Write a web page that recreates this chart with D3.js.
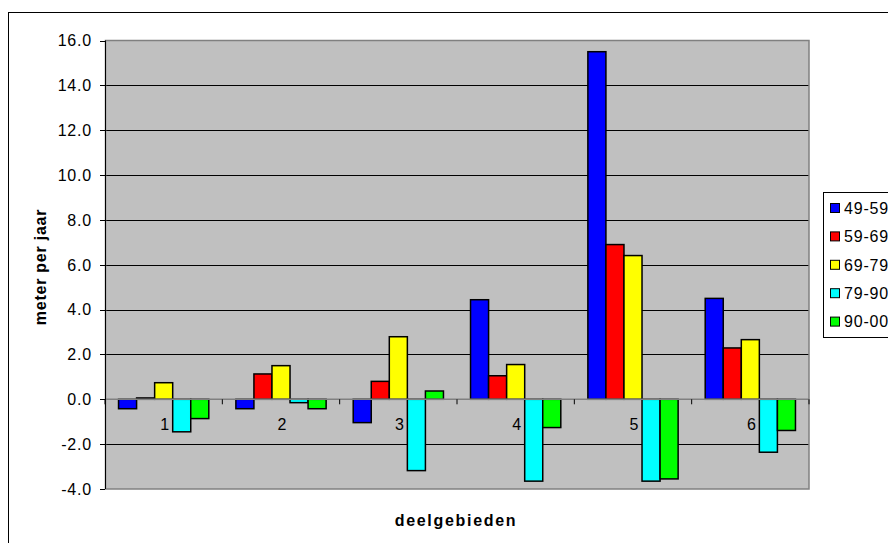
<!DOCTYPE html>
<html>
<head>
<meta charset="utf-8">
<script src="https://cdn.jsdelivr.net/npm/d3@7"></script>
<style>
  html, body { margin: 0; padding: 0; background: #fff; }
  svg { display: block; font-family: "Liberation Sans", Arial, sans-serif; }
</style>
</head>
<body>
<svg id="chart" width="888" height="543"></svg>
<script>
// Gemiddelde verplaatsing per deelgebied (meter per jaar), per periode
const categories = ["1", "2", "3", "4", "5", "6"];
const seriesNames = ["49-59", "59-69", "69-79", "79-90", "90-00"];
const seriesColors = ["#0000FF", "#FF0000", "#FFFF00", "#00FFFF", "#00FF00"];
const values49_59 = [-0.42, -0.42, -1.04, 4.44, 15.5, 4.5];
const values59_69 = [0.06, 1.13, 0.8, 1.05, 6.9, 2.29];
const values69_79 = [0.74, 1.5, 2.79, 1.55, 6.41, 2.66];
const values79_90 = [-1.45, -0.15, -3.18, -3.65, -3.65, -2.36];
const values90_00 = [-0.86, -0.42, 0.37, -1.26, -3.55, -1.39];
const yTicks = [-4, -2, 0, 2, 4, 6, 8, 10, 12, 14, 16];
const yTickLabels = ["-4.0", "-2.0", "0.0", "2.0", "4.0", "6.0", "8.0", "10.0", "12.0", "14.0", "16.0"];

const seriesValues = [values49_59, values59_69, values69_79, values79_90, values90_00];

const svg = d3.select("#chart");
const plot = { left: 105, right: 809, top: 40.5, bottom: 489 };
const fontSize = 16;
const spacing = 0.8;

// outer chart frame (runs off the page on the right and bottom)
svg.append("rect")
  .attr("x", 8.5).attr("y", 12.5)
  .attr("width", 900).attr("height", 560)
  .attr("fill", "#fff").attr("stroke", "#000").attr("stroke-width", 1);

const y = d3.scaleLinear().domain([-4, 16]).range([plot.bottom, plot.top]);
const x0 = d3.scaleBand().domain(categories)
  .range([plot.left, plot.right])
  .paddingInner(1.5 / 6.5).paddingOuter(0.75 / 6.5);
const x1 = d3.scaleBand().domain(seriesNames).range([0, x0.bandwidth()]).padding(0);

// plot area
svg.append("rect")
  .attr("x", plot.left).attr("y", plot.top)
  .attr("width", plot.right - plot.left).attr("height", plot.bottom - plot.top)
  .attr("fill", "#C0C0C0");

// gridlines
svg.append("g")
  .selectAll("line")
  .data(yTicks.filter(d => d !== 0 && d !== -4 && d !== 16))
  .join("line")
  .attr("x1", plot.left).attr("x2", plot.right)
  .attr("y1", d => Math.round(y(d)) + 0.5).attr("y2", d => Math.round(y(d)) + 0.5)
  .attr("stroke", "#000").attr("stroke-width", 1);

// plot border
svg.append("rect")
  .attr("x", plot.left + 0.5).attr("y", plot.top)
  .attr("width", plot.right - plot.left - 0.5).attr("height", plot.bottom - plot.top)
  .attr("fill", "none").attr("stroke", "#808080").attr("stroke-width", 1.5);

// bars
const groups = svg.append("g").selectAll("g")
  .data(categories)
  .join("g")
  .attr("transform", d => `translate(${x0(d)},0)`);

groups.selectAll("rect")
  .data((c, i) => seriesNames.map((s, k) => ({ s, k, v: seriesValues[k][i] })))
  .join("rect")
  .attr("x", d => x1(d.s))
  .attr("width", x1.bandwidth())
  .attr("y", d => y(Math.max(0, d.v)))
  .attr("height", d => Math.abs(y(d.v) - y(0)))
  .attr("fill", d => seriesColors[d.k])
  .attr("stroke", "#000").attr("stroke-width", 1.5);

// category axis along zero
const xAxis = svg.append("g");
xAxis.append("line")
  .attr("x1", plot.left).attr("x2", plot.right)
  .attr("y1", y(0)).attr("y2", y(0))
  .attr("stroke", "#808080").attr("stroke-width", 1.5);
xAxis.selectAll("line.tick")
  .data(d3.range(categories.length + 1))
  .join("line").attr("class", "tick")
  .attr("x1", i => plot.left + i * x0.step())
  .attr("x2", i => plot.left + i * x0.step())
  .attr("y1", y(0)).attr("y2", y(0) + 5)
  .attr("stroke", "#000").attr("stroke-width", 1);
xAxis.selectAll("text")
  .data(categories)
  .join("text")
  .attr("x", d => x0(d) + x0.bandwidth() / 2 + 1)
  .attr("y", y(0) + 31)
  .attr("text-anchor", "middle")
  .attr("font-size", fontSize)
  .text(d => d);

// value axis
const yAxis = svg.append("g");
yAxis.append("line")
  .attr("x1", plot.left + 0.5).attr("x2", plot.left + 0.5)
  .attr("y1", plot.top).attr("y2", plot.bottom)
  .attr("stroke", "#000").attr("stroke-width", 1);
yAxis.selectAll("line.tick")
  .data(yTicks)
  .join("line").attr("class", "tick")
  .attr("x1", plot.left - 5).attr("x2", plot.left)
  .attr("y1", d => Math.round(y(d)) + 0.5).attr("y2", d => Math.round(y(d)) + 0.5)
  .attr("stroke", "#000");
yAxis.selectAll("text")
  .data(yTicks)
  .join("text")
  .attr("x", 92)
  .attr("y", d => y(d))
  .attr("dy", "0.36em")
  .attr("text-anchor", "end")
  .attr("font-size", fontSize)
  .attr("letter-spacing", spacing)
  .text((d, i) => yTickLabels[i]);

// axis titles
svg.append("text")
  .attr("transform", "translate(46,267) rotate(-90)")
  .attr("text-anchor", "middle")
  .attr("font-size", fontSize).attr("font-weight", "bold")
  .attr("letter-spacing", 0.75)
  .text("meter per jaar");

svg.append("text")
  .attr("x", 456).attr("y", 526)
  .attr("text-anchor", "middle")
  .attr("font-size", fontSize).attr("font-weight", "bold")
  .attr("letter-spacing", 1.7)
  .text("deelgebieden");

// legend
const legend = svg.append("g");
legend.append("rect")
  .attr("x", 823.5).attr("y", 192.5)
  .attr("width", 100).attr("height", 145)
  .attr("fill", "#fff").attr("stroke", "#000").attr("stroke-width", 1);
const items = legend.selectAll("g.item")
  .data(seriesNames)
  .join("g").attr("class", "item")
  .attr("transform", (d, i) => `translate(0,${208 + i * 28.4})`);
items.append("rect")
  .attr("x", 830.5).attr("y", -4.5)
  .attr("width", 9).attr("height", 9)
  .attr("fill", (d, i) => seriesColors[i])
  .attr("stroke", "#000").attr("stroke-width", 1);
items.append("text")
  .attr("x", 844).attr("y", 0)
  .attr("dy", "0.36em")
  .attr("font-size", fontSize)
  .attr("letter-spacing", spacing)
  .text(d => d);
</script>
</body>
</html>
